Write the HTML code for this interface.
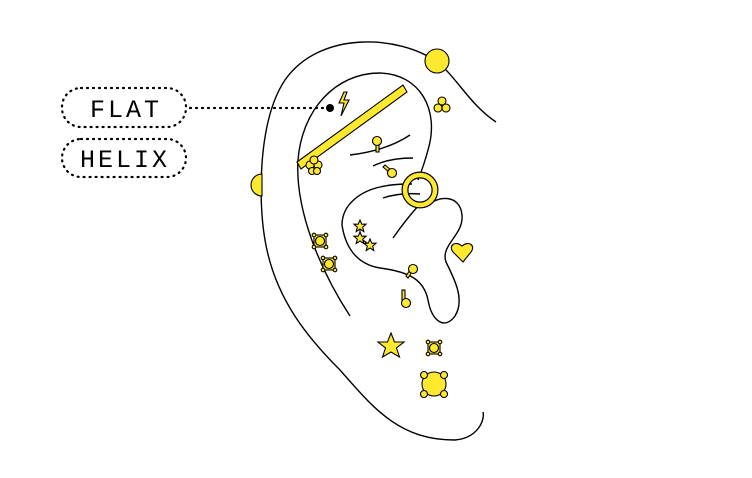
<!DOCTYPE html>
<html><head><style>
body{margin:0;background:#fff}
svg{display:block}
text{font-family:"Liberation Mono",monospace;font-size:25px;letter-spacing:3px}
</style></head><body>
<svg width="752" height="478" viewBox="0 0 752 478" xmlns="http://www.w3.org/2000/svg">
<defs>
<g id="sq" fill="#ffe92e" stroke="#000" stroke-width="1.1"><rect x="-6" y="-6" width="12" height="12"/><circle cx="-6" cy="-6" r="1.8"/><circle cx="6" cy="-6" r="1.8"/><circle cx="-6" cy="6" r="1.8"/><circle cx="6" cy="6" r="1.8"/><circle r="4.5"/></g>
<polygon id="st" points="0,-6 1.8,-1.8 6,-1.8 2.7,1.2 3.8,5.5 0,3 -3.8,5.5 -2.7,1.2 -6,-1.8 -1.8,-1.8"/>
</defs>
<g fill="none" stroke="#000" stroke-width="1.4">
<rect x="62" y="88" width="124" height="39" rx="19" stroke-dasharray="1 5" stroke-width="2.2" stroke-linecap="round"/>
<rect x="62" y="139" width="124" height="38" rx="19" stroke-dasharray="1 5" stroke-width="2.2" stroke-linecap="round"/>
<line x1="190" y1="108" x2="326" y2="108" stroke-dasharray="1 5" stroke-width="2.2" stroke-linecap="round"/>
<path d="M496,122 C470,105 455,75 437,62 C400,35 320,30 285,80 C258,120 258,200 265,240 C275,300 310,340 340,370 C375,410 400,440 455,440 C478,438 485,420 483,412"/>
<path d="M350,316 C320,270 295,210 298,160 C302,110 335,73 380,73 C420,74 440,110 428,150 C424,165 420,175 418,180"/>
<path d="M428,205 C440,195 460,195 462,215 C464,235 440,245 446,262 C455,280 465,300 455,316 C445,330 432,322 428,300 C424,280 410,272 380,268 C355,264 345,245 342,225 C342,205 360,190 385,186 C395,184 405,184 412,184"/>
<path d="M350,155 C375,152 395,145 410,135"/>
<path d="M373,166 C385,160 400,158 413,158"/>
<path d="M383,198 C395,194 408,193 420,194"/>
<path d="M393,238 C400,228 410,215 419,205"/>
</g>
<g fill="#ffe92e" stroke="#000" stroke-width="1.1">
<circle cx="437" cy="61" r="12"/>
<path d="M262,174 A11,11 0 0 0 262,196 Z"/>
<polygon points="297,162 403,85 407,92 301,169"/>
<path d="M344,92 L339,103 L344,103 L341,116 L349,100 L344,100 L347,92 Z"/>
<circle cx="438" cy="108" r="4"/><circle cx="446" cy="108" r="4"/><circle cx="442" cy="101" r="4"/>
<circle cx="310" cy="165" r="4"/><circle cx="318" cy="165" r="4"/><circle cx="314" cy="160" r="4"/><circle cx="312" cy="171" r="3.5"/><circle cx="317" cy="171" r="3.5"/>
<rect x="376" y="143" width="3" height="9"/><circle cx="377" cy="141" r="4.5"/>
<polygon points="383,167 385,165 391,170 389,172"/><circle cx="392" cy="173" r="4.5"/>
<circle cx="420" cy="190" r="15" fill="none" stroke="#000" stroke-width="7"/>
<circle cx="420" cy="190" r="15" fill="none" stroke="#ffe92e" stroke-width="4.6"/>
<path d="M463,262 L453,252 C448,246 455,240 462,246 C469,240 476,246 471,252 Z"/>
<polygon points="406,276 408,278 412,272 410,270"/><circle cx="413" cy="269" r="4.5"/>
<rect x="402" y="290" width="3" height="10"/><circle cx="406" cy="303" r="4.5"/>
<polygon points="391,333 394.5,342 404,342 396.5,348 399.5,357 391,352 382.5,357 385.5,348 378,342 387.5,342"/>
<circle cx="434" cy="384" r="12"/>
<circle cx="424" cy="375" r="3.5"/><circle cx="444" cy="375" r="3.5"/><circle cx="424" cy="394" r="3.5"/><circle cx="444" cy="394" r="3.5"/>
<line x1="360" y1="226" x2="360" y2="238"/><line x1="360" y1="238" x2="370" y2="245"/>
<use href="#st" x="360" y="226"/><use href="#st" x="360" y="238"/><use href="#st" x="370" y="245"/>
</g>
<use href="#sq" x="320" y="241"/><use href="#sq" x="329" y="264"/><use href="#sq" x="434" y="348"/>
<circle cx="330" cy="108" r="4" fill="#000"/>
<text x="90" y="117">FLAT</text>
<text x="80" y="167">HELIX</text>
</svg>
</body></html>
